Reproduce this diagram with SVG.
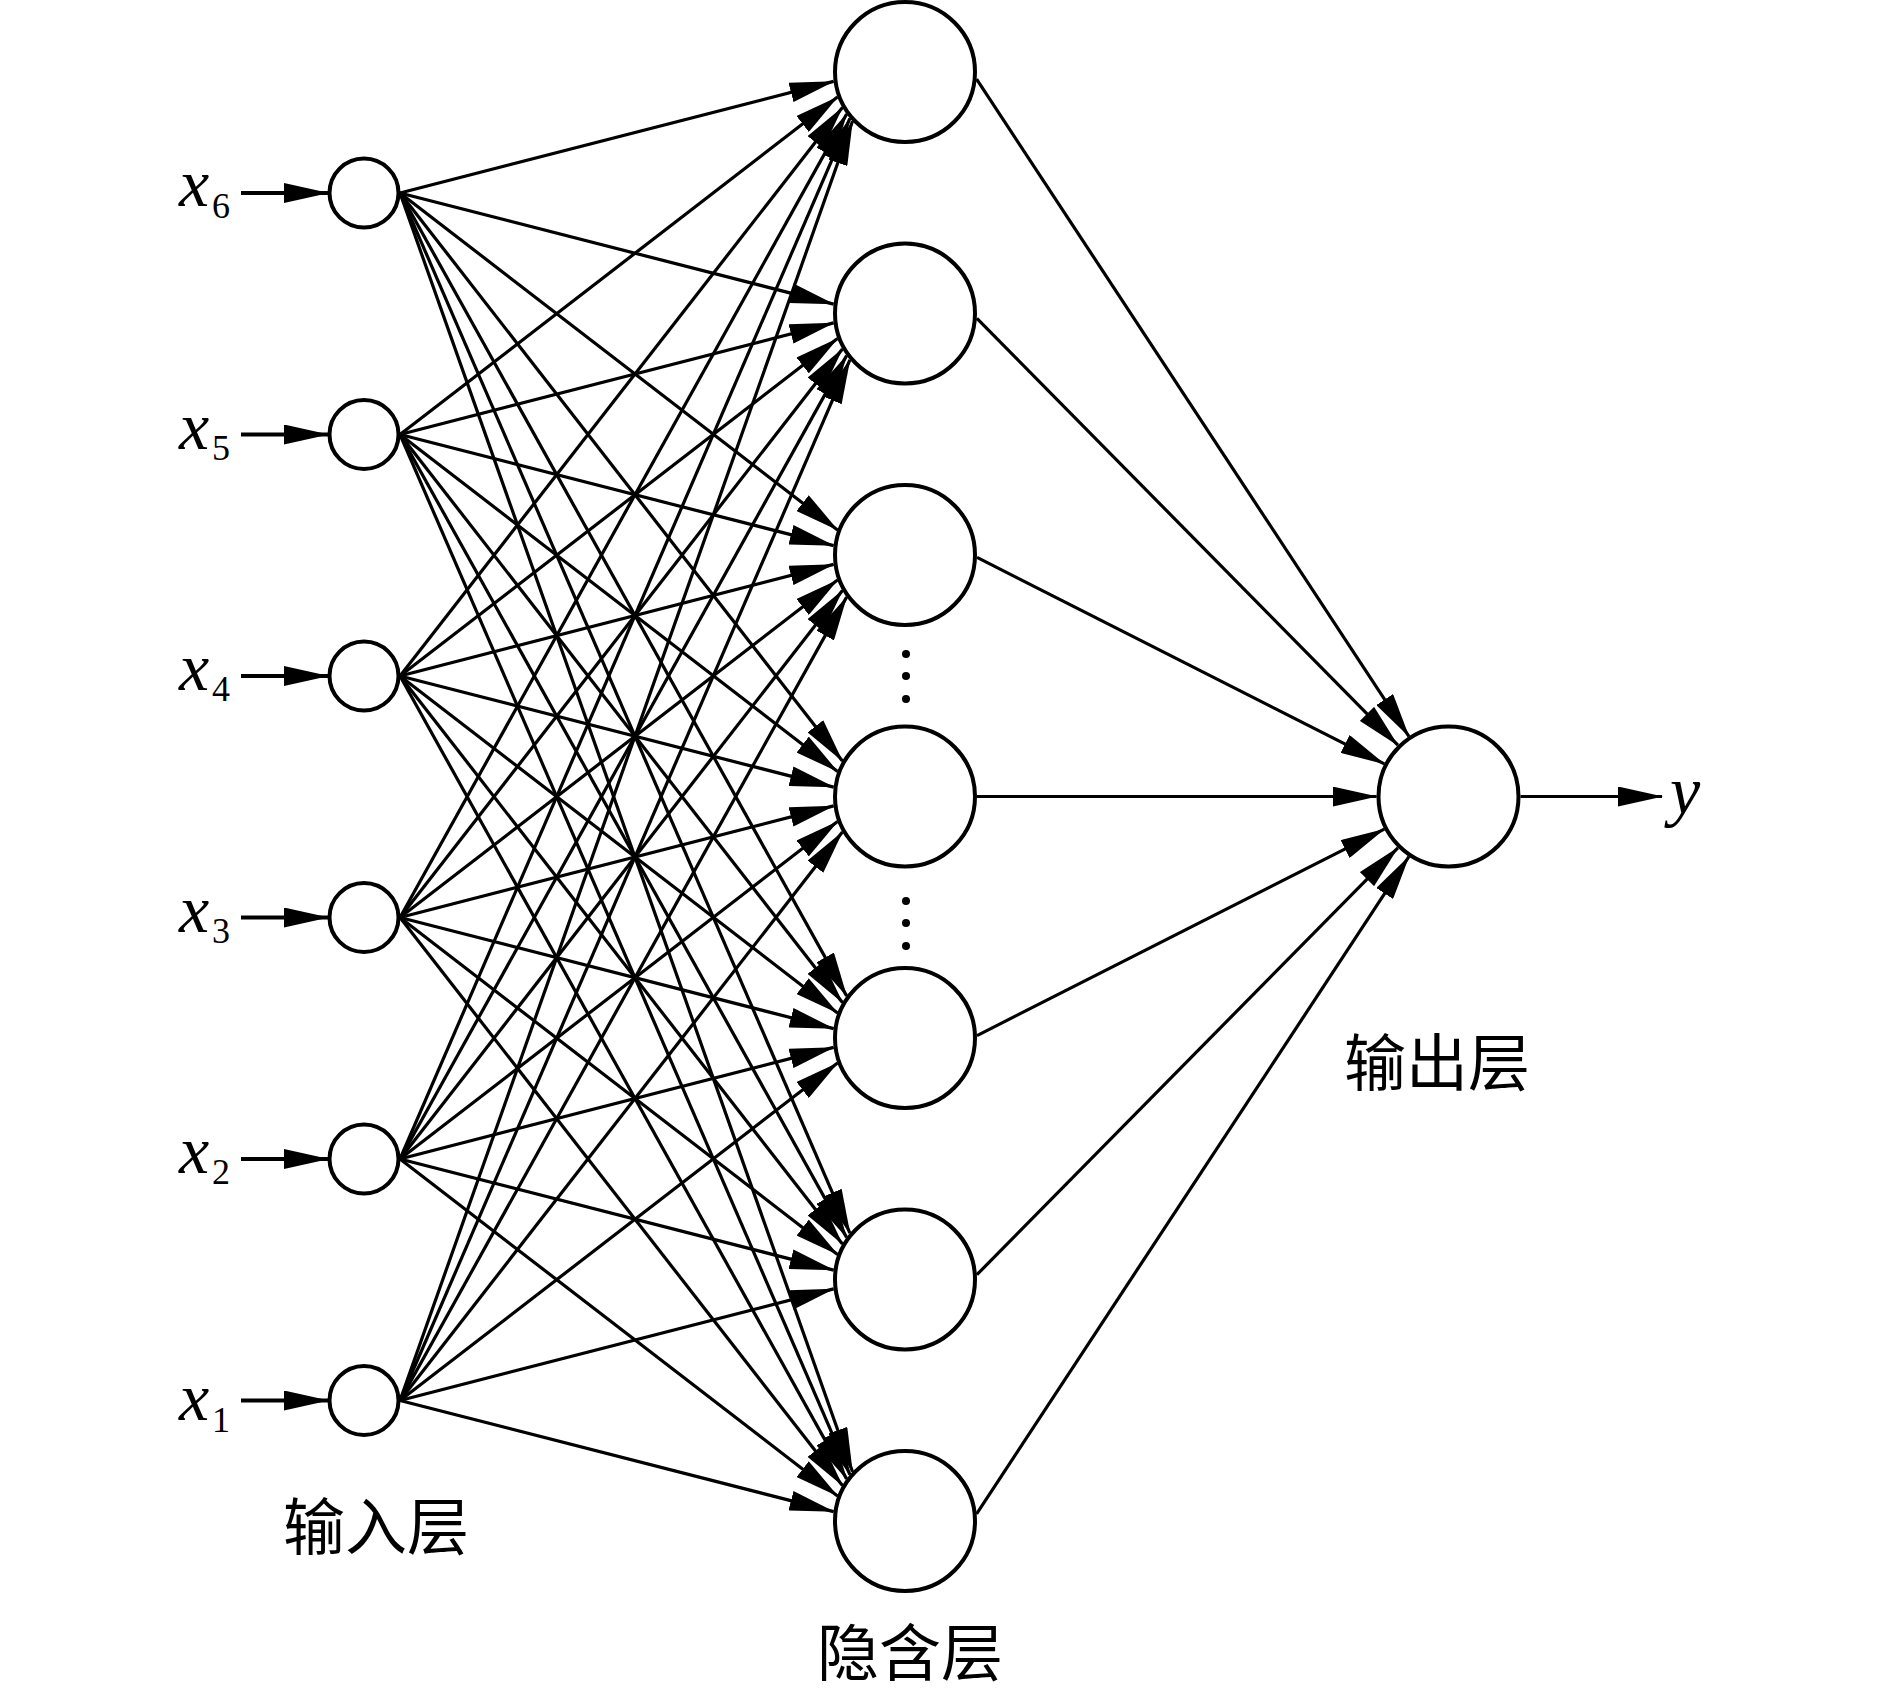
<svg xmlns="http://www.w3.org/2000/svg" width="1889" height="1697" viewBox="0 0 1889 1697">
<defs>
<marker id="ah" markerUnits="userSpaceOnUse" markerWidth="45" markerHeight="20" viewBox="0 0 45 20" refX="44" refY="10" orient="auto"><path d="M0,0 L45,10 L0,20 z" fill="#000"/></marker>
<style>
.c{stroke:#000;stroke-width:3.2;fill:none;marker-end:url(#ah)}
.ci{stroke:#000;stroke-width:4;fill:none;marker-end:url(#ah)}
.n{fill:#fff;stroke:#000;stroke-width:4}
.v{font-family:"Liberation Serif","Times New Roman",serif;font-style:italic;font-size:68px;fill:#000}
.s{font-family:"Liberation Serif","Times New Roman",serif;font-size:36px;fill:#000}
.cn{font-family:"Noto Sans CJK SC","Noto Sans CJK TC",sans-serif;font-size:62px;fill:#000;text-anchor:middle}
</style>
</defs>
<rect width="1889" height="1697" fill="#fff"/>
<g id="connectors">
<!-- input arrows -->
<line class="ci" x1="241" y1="193" x2="328" y2="193"/>
<line class="ci" x1="241" y1="434.5" x2="328" y2="434.5"/>
<line class="ci" x1="241" y1="676" x2="328" y2="676"/>
<line class="ci" x1="241" y1="917.5" x2="328" y2="917.5"/>
<line class="ci" x1="241" y1="1159" x2="328" y2="1159"/>
<line class="ci" x1="241" y1="1400.5" x2="328" y2="1400.5"/>
<!-- input 6 -->
<line class="c" x1="400" y1="193" x2="833.6" y2="81.4"/>
<line class="c" x1="400" y1="193" x2="833.6" y2="304.1"/>
<line class="c" x1="400" y1="193" x2="837.5" y2="529.9"/>
<line class="c" x1="400" y1="193" x2="842.4" y2="761"/>
<line class="c" x1="400" y1="193" x2="846.6" y2="995.9"/>
<line class="c" x1="400" y1="193" x2="849.9" y2="1233.1"/>
<line class="c" x1="400" y1="193" x2="852.5" y2="1471.7"/>
<!-- input 5 -->
<line class="c" x1="400" y1="434.5" x2="837.5" y2="97.1"/>
<line class="c" x1="400" y1="434.5" x2="833.6" y2="322.9"/>
<line class="c" x1="400" y1="434.5" x2="833.6" y2="545.6"/>
<line class="c" x1="400" y1="434.5" x2="837.5" y2="771.4"/>
<line class="c" x1="400" y1="434.5" x2="842.4" y2="1002.5"/>
<line class="c" x1="400" y1="434.5" x2="846.6" y2="1237.4"/>
<line class="c" x1="400" y1="434.5" x2="849.9" y2="1474.6"/>
<!-- input 4 -->
<line class="c" x1="400" y1="676" x2="842.4" y2="107.5"/>
<line class="c" x1="400" y1="676" x2="837.5" y2="338.6"/>
<line class="c" x1="400" y1="676" x2="833.6" y2="564.4"/>
<line class="c" x1="400" y1="676" x2="833.6" y2="787.1"/>
<line class="c" x1="400" y1="676" x2="837.5" y2="1012.9"/>
<line class="c" x1="400" y1="676" x2="842.4" y2="1244"/>
<line class="c" x1="400" y1="676" x2="846.6" y2="1478.9"/>
<!-- input 3 -->
<line class="c" x1="400" y1="917.5" x2="846.6" y2="114.1"/>
<line class="c" x1="400" y1="917.5" x2="842.4" y2="349"/>
<line class="c" x1="400" y1="917.5" x2="837.5" y2="580.1"/>
<line class="c" x1="400" y1="917.5" x2="833.6" y2="805.9"/>
<line class="c" x1="400" y1="917.5" x2="833.6" y2="1028.6"/>
<line class="c" x1="400" y1="917.5" x2="837.5" y2="1254.4"/>
<line class="c" x1="400" y1="917.5" x2="842.4" y2="1485.5"/>
<!-- input 2 -->
<line class="c" x1="400" y1="1159" x2="849.9" y2="118.4"/>
<line class="c" x1="400" y1="1159" x2="846.6" y2="355.6"/>
<line class="c" x1="400" y1="1159" x2="842.4" y2="590.5"/>
<line class="c" x1="400" y1="1159" x2="837.5" y2="821.6"/>
<line class="c" x1="400" y1="1159" x2="833.6" y2="1047.4"/>
<line class="c" x1="400" y1="1159" x2="833.6" y2="1270.1"/>
<line class="c" x1="400" y1="1159" x2="837.5" y2="1495.9"/>
<!-- input 1 -->
<line class="c" x1="400" y1="1400.5" x2="852.5" y2="121.3"/>
<line class="c" x1="400" y1="1400.5" x2="849.9" y2="359.9"/>
<line class="c" x1="400" y1="1400.5" x2="846.6" y2="597.1"/>
<line class="c" x1="400" y1="1400.5" x2="842.4" y2="832"/>
<line class="c" x1="400" y1="1400.5" x2="837.5" y2="1063.1"/>
<line class="c" x1="400" y1="1400.5" x2="833.6" y2="1288.9"/>
<line class="c" x1="400" y1="1400.5" x2="833.6" y2="1511.6"/>
<!-- hidden to output -->
<line class="c" x1="976.6" y1="79.2" x2="1408.9" y2="736.3"/>
<line class="c" x1="976.9" y1="318.3" x2="1397.9" y2="745.2"/>
<line class="c" x1="977" y1="557.4" x2="1384.3" y2="763.9"/>
<line class="c" x1="977" y1="796.5" x2="1376.5" y2="796.5"/>
<line class="c" x1="977" y1="1035.6" x2="1384.3" y2="829.1"/>
<line class="c" x1="976.9" y1="1274.7" x2="1397.9" y2="847.8"/>
<line class="c" x1="976.6" y1="1513.8" x2="1408.9" y2="856.7"/>
<!-- output arrow -->
<line class="c" x1="1520.5" y1="796.5" x2="1662" y2="796.5"/>
</g>
<g id="input-nodes">
<g id="in6"><circle class="n" cx="364" cy="193" r="34.5"/><text class="v" x="179" y="206">x</text><text class="s" x="212" y="218">6</text></g>
<g id="in5"><circle class="n" cx="364" cy="434.5" r="34.5"/><text class="v" x="179" y="448.5">x</text><text class="s" x="212" y="459.5">5</text></g>
<g id="in4"><circle class="n" cx="364" cy="676" r="34.5"/><text class="v" x="179" y="690">x</text><text class="s" x="212" y="701">4</text></g>
<g id="in3"><circle class="n" cx="364" cy="917.5" r="34.5"/><text class="v" x="179" y="931.5">x</text><text class="s" x="212" y="942.5">3</text></g>
<g id="in2"><circle class="n" cx="364" cy="1159" r="34.5"/><text class="v" x="179" y="1173">x</text><text class="s" x="212" y="1184">2</text></g>
<g id="in1"><circle class="n" cx="364" cy="1400.5" r="34.5"/><text class="v" x="179" y="1420">x</text><text class="s" x="212" y="1432">1</text></g>
</g>
<g id="hidden-nodes">
<g id="h1"><circle class="n" cx="905" cy="72" r="70"/></g>
<g id="h2"><circle class="n" cx="905" cy="313.5" r="70"/></g>
<g id="h3"><circle class="n" cx="905" cy="555" r="70"/></g>
<g id="h4"><circle class="n" cx="905" cy="796.5" r="70"/></g>
<g id="h5"><circle class="n" cx="905" cy="1038" r="70"/></g>
<g id="h6"><circle class="n" cx="905" cy="1279.5" r="70"/></g>
<g id="h7"><circle class="n" cx="905" cy="1521" r="70"/></g>
<g id="dots" fill="#000">
<circle cx="906" cy="654" r="4"/><circle cx="906" cy="676" r="4"/><circle cx="906" cy="699" r="4"/>
<circle cx="906" cy="901" r="4"/><circle cx="906" cy="923" r="4"/><circle cx="906" cy="946" r="4"/>
</g>
</g>
<g id="output-node">
<circle class="n" cx="1448.5" cy="796.5" r="70"/>
<text class="v" x="1670" y="814">y</text>
</g>
<g id="labels">
<text class="cn" x="376" y="1550">输入层</text>
<text class="cn" x="910" y="1676">隐含层</text>
<text class="cn" x="1437" y="1086">输出层</text>
</g>
</svg>
